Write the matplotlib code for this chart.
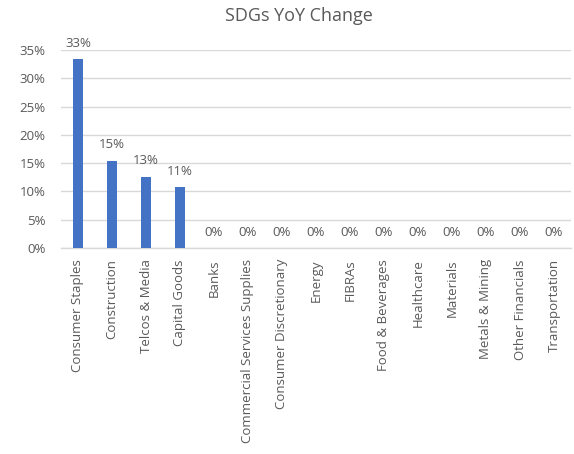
import matplotlib
matplotlib.use("Agg")
import matplotlib.pyplot as plt
from matplotlib.ticker import PercentFormatter, MultipleLocator

categories = [
    "Consumer Staples", "Construction", "Telcos & Media", "Capital Goods",
    "Banks", "Commercial Services Supplies", "Consumer Discretionary",
    "Energy", "FIBRAs", "Food & Beverages", "Healthcare", "Materials",
    "Metals & Mining", "Other Financials", "Transportation",
]
values = [0.334, 0.154, 0.126, 0.107, 0, 0, 0, 0, 0, 0, 0, 0, 0, 0, 0]
title = "SDGs YoY Change"

text_color = "#595959"
grid_color = "#d9d9d9"
bar_color = "#4472C4"

plt.rcParams["font.family"] = ["Open Sans", "DejaVu Sans"]

fig = plt.figure(figsize=(5.74, 4.54), dpi=100)
ax = fig.add_axes([61 / 574, 1 - 248 / 454, 510 / 574, 198 / 454])

x = range(len(categories))
ax.bar(x, values, width=0.32, color=bar_color, zorder=3)

ax.set_xlim(-0.5, len(categories) - 0.5)
ax.set_ylim(0, 0.35)
ax.yaxis.set_major_locator(MultipleLocator(0.05))
ax.yaxis.set_major_formatter(PercentFormatter(1.0, decimals=0))
ax.grid(axis="y", color=grid_color, linewidth=1, zorder=0)

for s in ("top", "right", "left"):
    ax.spines[s].set_visible(False)
ax.spines["bottom"].set_color(grid_color)
ax.spines["bottom"].set_linewidth(1)

ax.set_xticks(list(x))
ax.set_xticklabels(categories, rotation=90, fontsize=9.5, color=text_color)
ax.tick_params(axis="x", length=0, pad=8)
ax.tick_params(axis="y", length=0, pad=11, labelsize=9.5, labelcolor=text_color)

for xi, v in zip(x, values):
    ax.annotate(f"{v * 100:.0f}%", (xi, v), xytext=(0, 11.5),
                textcoords="offset points", ha="center", va="center",
                fontsize=9.5, color=text_color)

fig.text(299 / 574, 1 - 16 / 454, title, ha="center", va="center",
         fontsize=13, color=text_color)

fig.savefig("out.png", dpi=100)
